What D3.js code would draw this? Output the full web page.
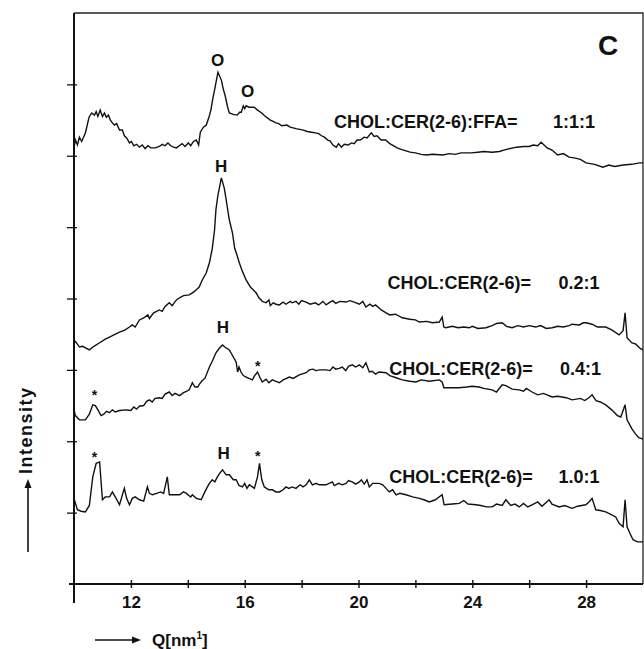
<!DOCTYPE html>
<html>
<head>
<meta charset="utf-8">
<script src="https://cdn.jsdelivr.net/npm/d3@7"></script>
<style>
body { margin: 0; background: #fff; }
svg text { font-family: "Liberation Sans", Arial, Helvetica, sans-serif; font-weight: bold; fill: #111; }
</style>
</head>
<body>
<div id="chart"></div>
<script>
// x ticks (Q in nm^-1) and y ticks (arbitrary intensity, offset curves)
var qTicks = [12, 14, 16, 18, 20, 22, 24, 26, 28];
var qTickLabels = [12, 16, 20, 24, 28];
var intensityTicks = [1, 2, 3, 4, 5, 6, 7];

var seriesNames = ["CHOL:CER(2-6):FFA=", "CHOL:CER(2-6)=", "CHOL:CER(2-6)=", "CHOL:CER(2-6)="];
var seriesRatios = ["1:1:1", "0.2:1", "0.4:1", "1.0:1"];

// [Q, intensity]
var ffa111 = [[10.0,6.12],[10.05,6.22],[10.12,6.15],[10.19,6.26],[10.27,6.20],[10.40,6.32],[10.53,6.54],[10.62,6.60],[10.72,6.57],[10.78,6.62],[10.84,6.55],[10.92,6.64],[11.0,6.55],[11.07,6.60],[11.14,6.54],[11.21,6.57],[11.28,6.50],[11.35,6.46],[11.42,6.43],[11.5,6.45],[11.6,6.36],[11.7,6.36],[11.77,6.28],[11.85,6.25],[11.95,6.18],[12.02,6.20],[12.1,6.14],[12.2,6.16],[12.3,6.12],[12.4,6.15],[12.5,6.10],[12.6,6.14],[12.7,6.11],[12.86,6.11],[13.0,6.13],[13.1,6.16],[13.2,6.14],[13.3,6.18],[13.4,6.14],[13.5,6.12],[13.6,6.11],[13.7,6.14],[13.8,6.17],[13.9,6.13],[14.02,6.18],[14.1,6.14],[14.2,6.20],[14.3,6.22],[14.38,6.15],[14.44,6.33],[14.55,6.40],[14.65,6.43],[14.75,6.55],[14.81,6.64],[14.88,6.80],[14.96,6.96],[15.06,7.17],[15.18,7.06],[15.25,6.93],[15.32,6.83],[15.4,6.68],[15.46,6.60],[15.6,6.58],[15.74,6.57],[15.82,6.61],[15.88,6.61],[15.95,6.70],[16.0,6.66],[16.05,6.70],[16.15,6.68],[16.33,6.68],[16.45,6.64],[16.6,6.60],[16.7,6.56],[16.9,6.50],[17.0,6.48],[17.1,6.46],[17.2,6.45],[17.3,6.42],[17.48,6.43],[17.6,6.40],[17.8,6.38],[18.06,6.36],[18.2,6.34],[18.35,6.33],[18.48,6.32],[18.6,6.31],[18.7,6.28],[18.8,6.26],[18.92,6.22],[19.0,6.21],[19.1,6.15],[19.22,6.12],[19.3,6.17],[19.4,6.12],[19.5,6.16],[19.64,6.15],[19.75,6.18],[19.85,6.17],[19.95,6.22],[20.06,6.22],[20.2,6.26],[20.3,6.25],[20.45,6.32],[20.55,6.27],[20.65,6.28],[20.8,6.22],[20.95,6.22],[21.1,6.17],[21.36,6.11],[21.5,6.09],[21.81,6.05],[22.0,6.04],[22.2,6.02],[22.4,6.01],[22.6,6.02],[22.96,6.01],[23.2,6.03],[23.4,6.02],[23.6,6.04],[23.96,6.04],[24.2,6.05],[24.4,6.06],[24.7,6.05],[24.95,6.06],[25.2,6.09],[25.56,6.12],[25.8,6.13],[26.0,6.13],[26.14,6.15],[26.3,6.14],[26.42,6.19],[26.63,6.11],[26.8,6.08],[27.0,6.01],[27.2,6.03],[27.4,5.98],[27.58,5.97],[27.8,5.95],[28.0,5.90],[28.3,5.88],[28.59,5.84],[28.8,5.87],[29.0,5.85],[29.3,5.87],[29.6,5.88],[29.88,5.90],[30.0,5.90]];

var ratio02 = [[10.0,3.42],[10.1,3.37],[10.19,3.32],[10.3,3.33],[10.54,3.28],[10.7,3.33],[10.9,3.38],[11.1,3.43],[11.25,3.46],[11.4,3.49],[11.6,3.53],[11.8,3.56],[11.95,3.60],[12.05,3.63],[12.15,3.60],[12.3,3.70],[12.45,3.73],[12.6,3.77],[12.65,3.72],[12.8,3.80],[13.0,3.84],[13.1,3.82],[13.2,3.89],[13.35,3.94],[13.45,3.90],[13.6,3.98],[13.71,4.01],[13.85,4.04],[14.05,4.05],[14.2,4.09],[14.29,4.12],[14.4,4.16],[14.51,4.26],[14.65,4.36],[14.76,4.50],[14.86,4.70],[14.94,4.96],[14.99,5.25],[15.06,5.45],[15.18,5.69],[15.28,5.55],[15.35,5.38],[15.46,5.10],[15.57,4.92],[15.65,4.70],[15.72,4.62],[15.81,4.50],[15.92,4.38],[16.05,4.26],[16.2,4.16],[16.4,4.08],[16.5,4.01],[16.62,3.96],[16.75,3.94],[16.85,3.98],[16.9,3.90],[17.0,3.94],[17.1,3.92],[17.22,3.91],[17.35,3.95],[17.45,3.92],[17.6,3.96],[17.67,3.94],[17.8,3.96],[17.9,3.92],[18.0,3.97],[18.16,3.95],[18.3,3.92],[18.48,3.94],[18.6,3.91],[18.75,3.96],[18.86,3.91],[19.0,3.95],[19.1,3.97],[19.2,3.93],[19.35,3.96],[19.56,3.95],[19.7,3.97],[19.85,3.95],[20.03,3.92],[20.15,3.96],[20.26,3.88],[20.4,3.92],[20.5,3.89],[20.6,3.91],[20.8,3.84],[20.97,3.80],[21.1,3.77],[21.3,3.78],[21.54,3.73],[21.8,3.71],[22.0,3.70],[22.14,3.67],[22.4,3.68],[22.6,3.66],[22.84,3.67],[22.94,3.74],[23.0,3.60],[23.07,3.59],[23.3,3.61],[23.5,3.59],[23.7,3.60],[23.89,3.59],[24.0,3.61],[24.2,3.58],[24.48,3.59],[24.7,3.62],[24.85,3.65],[25.05,3.66],[25.2,3.61],[25.4,3.59],[25.6,3.62],[25.8,3.60],[26.0,3.62],[26.23,3.60],[26.4,3.62],[26.6,3.58],[26.81,3.59],[27.0,3.61],[27.2,3.60],[27.4,3.62],[27.51,3.64],[27.76,3.63],[27.9,3.66],[28.0,3.66],[28.21,3.64],[28.4,3.60],[28.69,3.60],[28.9,3.56],[29.16,3.49],[29.3,3.55],[29.37,3.80],[29.44,3.45],[29.6,3.38],[29.75,3.36],[29.9,3.30],[30.0,3.28]];

var ratio04 = [[10.0,2.44],[10.05,2.36],[10.19,2.30],[10.4,2.30],[10.54,2.38],[10.66,2.51],[10.75,2.50],[10.84,2.44],[10.95,2.36],[11.05,2.38],[11.14,2.42],[11.25,2.40],[11.35,2.44],[11.45,2.41],[11.6,2.43],[11.83,2.44],[12.0,2.43],[12.1,2.48],[12.2,2.45],[12.3,2.49],[12.45,2.50],[12.55,2.56],[12.65,2.58],[12.75,2.55],[12.85,2.60],[13.0,2.61],[13.1,2.60],[13.2,2.66],[13.35,2.69],[13.45,2.64],[13.55,2.67],[13.71,2.64],[13.85,2.68],[13.95,2.70],[14.05,2.72],[14.16,2.82],[14.25,2.76],[14.35,2.76],[14.41,2.80],[14.51,2.85],[14.6,2.88],[14.76,3.04],[14.86,3.12],[14.99,3.24],[15.1,3.30],[15.22,3.35],[15.3,3.32],[15.46,3.28],[15.6,3.18],[15.7,3.11],[15.75,2.97],[15.8,3.04],[15.87,2.97],[15.95,2.92],[16.05,2.90],[16.15,2.88],[16.27,2.86],[16.35,2.92],[16.45,2.97],[16.55,2.88],[16.62,2.83],[16.75,2.87],[16.85,2.82],[16.97,2.86],[17.1,2.84],[17.22,2.82],[17.35,2.86],[17.57,2.90],[17.7,2.88],[17.92,2.93],[18.16,2.96],[18.27,3.00],[18.4,3.01],[18.5,2.99],[18.65,3.00],[18.86,3.00],[19.0,2.99],[19.1,3.04],[19.2,3.01],[19.32,3.02],[19.43,3.04],[19.55,2.99],[19.65,3.05],[19.78,3.07],[19.9,3.04],[20.03,3.07],[20.15,3.03],[20.26,3.10],[20.38,2.97],[20.48,2.98],[20.6,2.94],[20.72,2.97],[20.97,2.96],[21.1,2.92],[21.32,2.89],[21.54,2.86],[21.8,2.84],[22.02,2.83],[22.2,2.86],[22.49,2.84],[22.84,2.86],[22.94,2.83],[23.0,2.75],[23.3,2.75],[23.54,2.75],[23.8,2.76],[24.0,2.77],[24.24,2.76],[24.4,2.74],[24.7,2.72],[24.85,2.69],[25.05,2.79],[25.18,2.78],[25.4,2.73],[25.65,2.72],[25.8,2.70],[25.9,2.74],[26.1,2.69],[26.3,2.65],[26.5,2.67],[26.81,2.62],[27.0,2.63],[27.3,2.61],[27.51,2.58],[27.8,2.60],[27.95,2.57],[28.1,2.61],[28.21,2.65],[28.35,2.57],[28.5,2.55],[28.69,2.51],[28.9,2.44],[29.1,2.36],[29.22,2.34],[29.37,2.51],[29.44,2.30],[29.6,2.18],[29.72,2.11],[29.85,2.05],[30.0,2.03]];

var ratio10 = [[10.0,1.20],[10.12,1.04],[10.25,1.02],[10.4,1.01],[10.54,1.10],[10.66,1.50],[10.78,1.69],[10.9,1.71],[11.0,1.18],[11.1,1.22],[11.25,1.22],[11.35,1.29],[11.45,1.22],[11.6,1.11],[11.77,1.34],[11.85,1.20],[11.95,1.11],[12.05,1.20],[12.15,1.22],[12.3,1.18],[12.45,1.16],[12.58,1.36],[12.65,1.27],[12.76,1.25],[12.9,1.27],[13.05,1.29],[13.15,1.27],[13.28,1.50],[13.35,1.25],[13.5,1.25],[13.71,1.25],[13.85,1.29],[13.95,1.27],[14.1,1.22],[14.16,1.25],[14.3,1.20],[14.47,1.18],[14.6,1.29],[14.69,1.36],[14.76,1.41],[14.86,1.46],[14.95,1.43],[15.04,1.50],[15.12,1.55],[15.22,1.60],[15.35,1.53],[15.46,1.53],[15.6,1.46],[15.7,1.46],[15.8,1.38],[15.92,1.36],[16.0,1.41],[16.08,1.34],[16.16,1.39],[16.27,1.36],[16.34,1.34],[16.45,1.50],[16.52,1.69],[16.6,1.46],[16.69,1.36],[16.85,1.32],[16.97,1.32],[17.1,1.29],[17.22,1.29],[17.35,1.32],[17.45,1.36],[17.55,1.34],[17.67,1.36],[17.8,1.34],[17.95,1.39],[18.05,1.36],[18.16,1.39],[18.27,1.46],[18.38,1.39],[18.51,1.41],[18.62,1.39],[18.75,1.39],[18.86,1.39],[18.97,1.41],[19.08,1.43],[19.15,1.38],[19.3,1.41],[19.43,1.39],[19.56,1.41],[19.65,1.45],[19.78,1.43],[19.9,1.40],[20.03,1.43],[20.1,1.46],[20.2,1.40],[20.3,1.46],[20.38,1.36],[20.5,1.41],[20.72,1.41],[20.85,1.39],[20.97,1.34],[21.08,1.29],[21.2,1.32],[21.32,1.25],[21.45,1.27],[21.67,1.25],[21.9,1.22],[22.14,1.20],[22.3,1.18],[22.49,1.15],[22.7,1.18],[22.94,1.25],[23.01,1.11],[23.3,1.12],[23.54,1.13],[23.7,1.17],[23.85,1.12],[24.13,1.11],[24.3,1.10],[24.5,1.08],[24.7,1.08],[24.85,1.12],[25.05,1.10],[25.18,1.18],[25.35,1.10],[25.5,1.12],[25.65,1.08],[25.8,1.13],[25.95,1.08],[26.1,1.11],[26.3,1.15],[26.45,1.09],[26.7,1.18],[26.8,1.12],[27.05,1.08],[27.25,1.10],[27.51,1.06],[27.7,1.09],[27.99,1.11],[28.1,1.15],[28.21,1.20],[28.34,1.04],[28.5,1.03],[28.69,1.01],[28.9,0.97],[29.04,0.94],[29.16,0.85],[29.3,0.80],[29.37,1.18],[29.44,0.80],[29.55,0.70],[29.65,0.62],[29.8,0.59],[30.0,0.59]];

var seriesData = [ffa111, ratio02, ratio04, ratio10];

// peak marks: text, Q, intensity (baseline)
var peakMarks = ["O", "O", "H", "H", "*", "*", "*", "H", "*"];
var peakQ = [15.05, 16.10, 15.17, 15.23, 16.46, 10.72, 10.72, 15.26, 16.46];
var peakI = [7.26, 6.83, 5.77, 3.52, 2.98, 2.58, 1.71, 1.75, 1.72];

// where each composition label sits (Q of name start, Q of ratio start, baseline intensity)
var labelQ = [19.14, 21.02, 21.08, 21.08];
var ratioQ = [26.84, 27.03, 27.08, 27.03];
var labelI = [6.39, 4.14, 2.93, 1.41];

var width = 644, height = 649;

var svg = d3.select("#chart").append("svg")
    .attr("width", width)
    .attr("height", height);

var x = d3.scaleLinear().domain([10, 30]).range([74, 643]);
var y = d3.scaleLinear().domain([0, 8]).range([584, 13]);

//frame on top and right
svg.append("path")
    .attr("d", "M" + x(10) + "," + y(8) + "H" + x(30) + "V" + y(0))
    .style("fill", "none")
    .style("stroke", "#222")
    .style("stroke-width", 1.3);

//x axis: ticks cross the line
var xDown = d3.axisBottom(x)
    .tickValues(qTicks)
    .tickSizeInner(4)
    .tickSizeOuter(0)
    .tickPadding(8)
    .tickFormat(function (d) { return qTickLabels.indexOf(d) > -1 ? d : ""; });
var xUp = d3.axisTop(x).tickValues(qTicks).tickSizeInner(4).tickSizeOuter(0).tickFormat("");

var gx = svg.append("g").attr("transform", "translate(0," + y(0) + ")").call(xDown);
svg.append("g").attr("transform", "translate(0," + y(0) + ")").call(xUp).select(".domain").remove();
gx.select(".domain").remove();
gx.selectAll("text")
    .attr("font-family", "'Liberation Sans', Arial, sans-serif")
    .attr("font-weight", "bold")
    .attr("font-size", 17)
    .attr("fill", "#111");
svg.selectAll(".tick line").style("stroke", "#111").style("stroke-width", 1.4);

//y axis ticks
var yLeft = d3.axisLeft(y).tickValues(intensityTicks).tickSizeInner(7).tickSizeOuter(0).tickFormat("");
var yRight = d3.axisRight(y).tickValues(intensityTicks).tickSizeInner(3).tickSizeOuter(0).tickFormat("");
svg.append("g").attr("class", "yl").attr("transform", "translate(" + x(10) + ",0)").call(yLeft).select(".domain").remove();
svg.append("g").attr("class", "yr").attr("transform", "translate(" + x(10) + ",0)").call(yRight).select(".domain").remove();
svg.selectAll(".yl .tick line, .yr .tick line").style("stroke", "#111").style("stroke-width", 1.3);

//main axis lines
svg.append("line")
    .attr("x1", x(10)).attr("x2", x(10))
    .attr("y1", y(8)).attr("y2", y(0) + 19)
    .style("stroke", "#111").style("stroke-width", 2);
svg.append("line")
    .attr("x1", x(10) - 5).attr("x2", x(30))
    .attr("y1", y(0)).attr("y2", y(0))
    .style("stroke", "#111").style("stroke-width", 1.8);

//curves
var line = d3.line()
    .x(function (d) { return x(d[0]); })
    .y(function (d) { return y(d[1]); });

svg.selectAll("path.curve")
    .data(seriesData)
    .enter()
    .append("path")
    .attr("class", "curve")
    .attr("d", line)
    .style("fill", "none")
    .style("stroke", "#111")
    .style("stroke-width", 1.4)
    .style("stroke-linejoin", "miter");

//composition labels
for (var i = 0; i < seriesNames.length; i++) {
    svg.append("text")
        .attr("x", x(labelQ[i]))
        .attr("y", y(labelI[i]))
        .attr("font-size", 18)
        .text(seriesNames[i]);
    svg.append("text")
        .attr("x", x(ratioQ[i]))
        .attr("y", y(labelI[i]))
        .attr("font-size", 18)
        .text(seriesRatios[i]);
}

//peak marks
for (var i = 0; i < peakMarks.length; i++) {
    svg.append("text")
        .attr("x", x(peakQ[i]))
        .attr("y", y(peakI[i]))
        .attr("text-anchor", "middle")
        .attr("font-size", peakMarks[i] == "*" ? 14 : 17)
        .text(peakMarks[i]);
}

//panel letter
svg.append("text")
    .attr("x", 608)
    .attr("y", 55)
    .attr("text-anchor", "middle")
    .attr("font-size", 28)
    .text("C");

//y label with arrow
svg.append("line")
    .attr("x1", 28).attr("x2", 28)
    .attr("y1", 552).attr("y2", 484)
    .style("stroke", "#111").style("stroke-width", 1.6);
svg.append("path")
    .attr("d", "M28,479 L24.5,488 L31.5,488 Z")
    .style("fill", "#111");
svg.append("text")
    .attr("transform", "translate(32,474) rotate(-90)")
    .attr("font-family", "'Open Sans', 'Noto Sans', sans-serif")
    .attr("font-size", 18)
    .attr("letter-spacing", 1.5)
    .text("Intensity");

//x label with arrow
svg.append("line")
    .attr("x1", 95).attr("x2", 135)
    .attr("y1", 640).attr("y2", 640)
    .style("stroke", "#111").style("stroke-width", 1.4);
svg.append("path")
    .attr("d", "M141,640 L132,636.5 L132,643.5 Z")
    .style("fill", "#111");
var xl = svg.append("text")
    .attr("x", 152)
    .attr("y", 646)
    .attr("font-size", 17)
    .text("Q[nm");
xl.append("tspan").attr("font-size", 10).attr("dy", -7).text("1");
xl.append("tspan").attr("dy", 7).text("]");
</script>
</body>
</html>
